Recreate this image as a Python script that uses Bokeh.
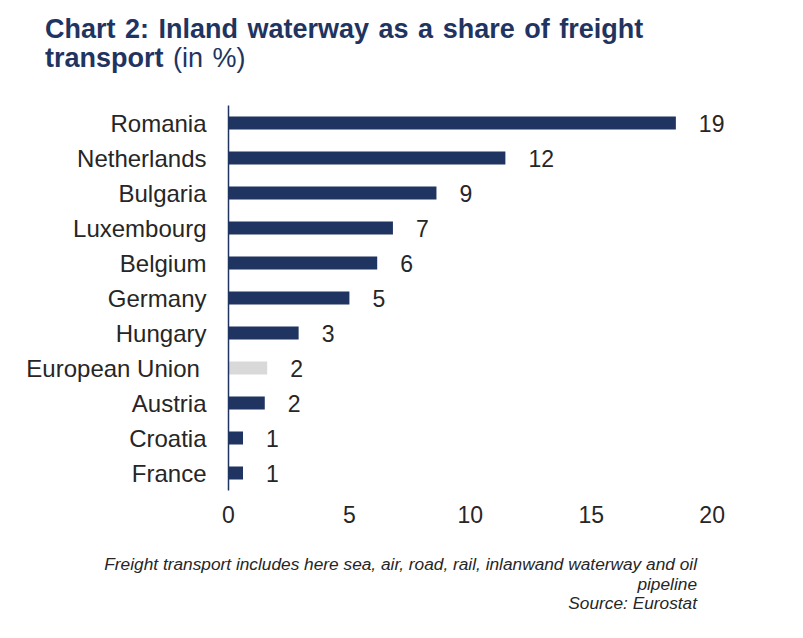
from bokeh.plotting import figure
from bokeh.models import ColumnDataSource, FactorRange, Range1d, FixedTicker, Div
from bokeh.layouts import column
from bokeh.core.properties import value
from bokeh.embed import file_html
from bokeh.resources import INLINE

countries = ["Romania", "Netherlands", "Bulgaria", "Luxembourg", "Belgium", "Germany",
             "Hungary", "European Union ", "Austria", "Croatia", "France"]
shares = [18.5, 11.45, 8.6, 6.8, 6.15, 5.0, 2.9, 1.6, 1.5, 0.6, 0.6]
value_labels = ["19", "12", "9", "7", "6", "5", "3", "2", "2", "1", "1"]
bar_colors = ["#1f3461"] * 7 + ["#d9d9d9"] + ["#1f3461"] * 3
x_ticks = [0, 5, 10, 15, 20]
title_bold = "Chart 2: Inland waterway as a share of freight<br>transport"
title_rest = "(in %)"
foot = ["Freight transport includes here sea, air, road, rail, inlanwand waterway and oil",
        "pipeline", "Source: Eurostat"]

FONT = "Liberation Sans"
NAVY = "#1f3461"
TXT = "#262626"
W = 803

src = ColumnDataSource(dict(country=countries, share=shares, lab=value_labels, color=bar_colors))

p = figure(width=W, height=460, output_backend="svg", toolbar_location=None,
           y_range=FactorRange(factors=list(reversed(countries)), range_padding=0),
           x_range=Range1d(0, 22),
           min_border_left=228, min_border_right=43, min_border_top=25, min_border_bottom=50)
p.title = None
p.outline_line_color = None
p.xgrid.grid_line_color = None
p.ygrid.grid_line_color = None
p.background_fill_color = "white"
p.border_fill_color = "white"

p.hbar(y="country", left=0, right="share", height=0.37, fill_color="color",
       line_color=None, source=src)
p.text(x="share", y="country", text="lab", source=src, x_offset=23,
       text_align="left", text_baseline="middle", text_font=value(FONT),
       text_font_size="23px", text_color=TXT)

xa = p.xaxis[0]
xa.ticker = FixedTicker(ticks=x_ticks)
xa.axis_line_color = None
xa.major_tick_line_color = None
xa.minor_tick_line_color = None
xa.major_tick_out = 0
xa.major_label_standoff = 15
xa.major_label_text_font = FONT
xa.major_label_text_font_size = "23px"
xa.major_label_text_color = TXT

ya = p.yaxis[0]
ya.axis_line_color = NAVY
ya.axis_line_width = 1.5
ya.major_tick_line_color = None
ya.minor_tick_line_color = None
ya.major_tick_out = 0
ya.major_label_standoff = 22
ya.major_label_text_font = FONT
ya.major_label_text_font_size = "24px"
ya.major_label_text_color = TXT

title_html = (
    f'<div style="font-family:\'{FONT}\';font-size:27px;line-height:29px;color:{NAVY};'
    f'padding:15px 0 0 45px;white-space:nowrap;word-spacing:2px;">'
    f'<span style="font-weight:bold;">{title_bold}</span> {title_rest}</div>'
)
head = Div(text=title_html, width=W, height=80, margin=0)

foot_html = (
    f'<div style="font-family:\'{FONT}\';font-size:17.3px;font-style:italic;line-height:19.5px;'
    f'color:{TXT};width:697px;text-align:right;padding-top:15px;white-space:nowrap;">'
    + "<br>".join(foot) + "</div>"
)
tail = Div(text=foot_html, width=W, height=98, margin=0)

layout = column(head, p, tail, spacing=0)
open("out.html", "w").write(file_html(layout, INLINE))
